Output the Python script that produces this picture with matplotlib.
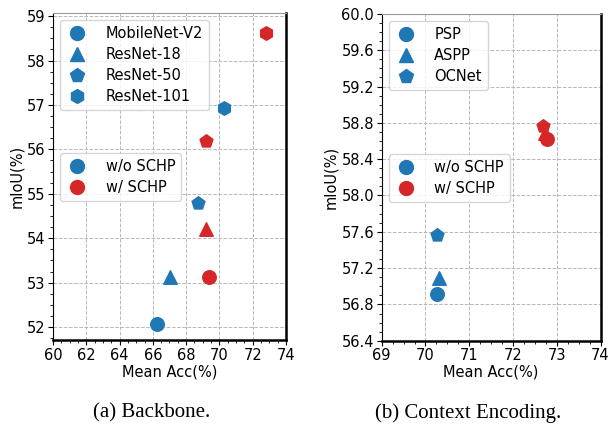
import matplotlib
matplotlib.use('Agg')
import matplotlib.pyplot as plt
from matplotlib.ticker import AutoMinorLocator, MultipleLocator, FormatStrFormatter
from matplotlib.lines import Line2D

BLUE = '#1f77b4'
RED = '#d62728'

# (a) Backbone
bb_names = ['MobileNet-V2', 'ResNet-18', 'ResNet-50', 'ResNet-101']
bb_markers = ['o', '^', 'p', 'h']
bb_acc_wo = [66.25, 67.05, 68.72, 70.28]
bb_miou_wo = [52.07, 53.12, 54.80, 56.93]
bb_acc_w = [69.40, 69.17, 69.17, 72.78]
bb_miou_w = [53.13, 54.20, 56.18, 58.62]

# (b) Context encoding
ce_names = ['PSP', 'ASPP', 'OCNet']
ce_markers = ['o', '^', 'p']
ce_acc_wo = [70.27, 70.32, 70.26]
ce_miou_wo = [56.92, 57.09, 57.56]
ce_acc_w = [72.78, 72.74, 72.68]
ce_miou_w = [58.62, 58.69, 58.76]

fig = plt.figure(figsize=(6.13, 4.26), dpi=100)
ax1 = fig.add_axes([0.0865, 0.2019, 0.380, 0.7676])
ax2 = fig.add_axes([0.6227, 0.2, 0.357, 0.7675])


def draw(ax, names, markers, acc_wo, miou_wo, acc_w, miou_w):
    for m, x, y in zip(markers, acc_wo, miou_wo):
        ax.scatter(x, y, marker=m, s=95, color=BLUE, zorder=3)
    for m, x, y in zip(markers, acc_w, miou_w):
        ax.scatter(x, y, marker=m, s=95, color=RED, zorder=3)
    ax.grid(True, linestyle='--', color='#b8b8b8', linewidth=0.7)
    ax.set_axisbelow(True)
    ax.xaxis.set_minor_locator(AutoMinorLocator(4))
    ax.yaxis.set_minor_locator(AutoMinorLocator(4))
    ax.tick_params(labelsize=10.5, direction='out', pad=2)
    ax.tick_params(which='minor', length=2.5)
    ax.spines['right'].set_linewidth(1.8)
    ax.spines['bottom'].set_linewidth(1.8)
    ax.spines['top'].set_color('#999999')
    ax.set_xlabel('Mean Acc(%)', fontsize=10.5, labelpad=1)
    ax.set_ylabel('mIoU(%)', fontsize=10.5, labelpad=2)

    h1 = [Line2D([], [], marker=m, color=BLUE, linestyle='None', markersize=10)
          for m in markers]
    leg1 = ax.legend(h1, names, loc='upper left', fontsize=10.5,
                     handlelength=1.5, handletextpad=1.2, borderpad=0.4,
                     labelspacing=0.42)
    ax.add_artist(leg1)
    h2 = [Line2D([], [], marker='o', color=c, linestyle='None', markersize=10)
          for c in (BLUE, RED)]
    ax.legend(h2, ['w/o SCHP', 'w/ SCHP'], loc='upper left',
              bbox_to_anchor=(0.0, 0.594), fontsize=10.5,
              handlelength=1.5, handletextpad=1.2, borderpad=0.4,
              labelspacing=0.42)


draw(ax1, bb_names, bb_markers, bb_acc_wo, bb_miou_wo, bb_acc_w, bb_miou_w)
ax1.set_xlim(60, 74)
ax1.set_ylim(51.71, 59.07)
ax1.xaxis.set_major_locator(MultipleLocator(2))
ax1.yaxis.set_major_locator(MultipleLocator(1))

draw(ax2, ce_names, ce_markers, ce_acc_wo, ce_miou_wo, ce_acc_w, ce_miou_w)
ax2.set_xlim(69, 74)
ax2.set_ylim(56.4, 60.0)
ax2.xaxis.set_major_locator(MultipleLocator(1))
ax2.yaxis.set_major_locator(MultipleLocator(0.4))
ax2.yaxis.set_major_formatter(FormatStrFormatter('%.1f'))

fig.text(0.248, 0.03, '(a) Backbone.', ha='center', va='center',
         fontsize=15, family='Liberation Serif')
fig.text(0.763, 0.03, '(b) Context Encoding.', ha='center', va='center',
         fontsize=15, family='Liberation Serif')

fig.savefig('out.png', dpi=100)
